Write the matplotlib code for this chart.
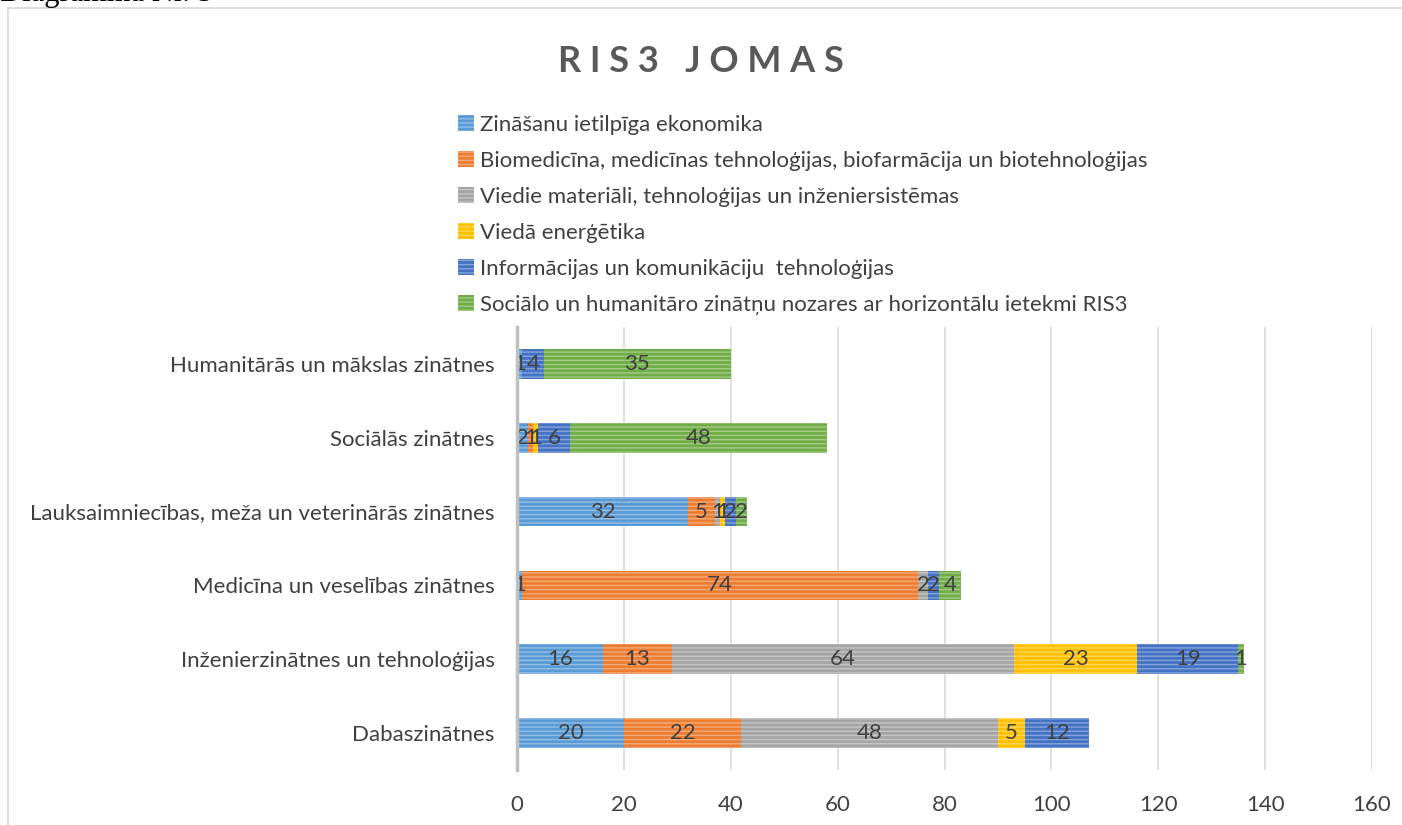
import matplotlib.pyplot as plt
from matplotlib.patches import Rectangle
from matplotlib.colors import to_rgb
import numpy as np

plt.rcParams['font.family'] = ['Lato', 'DejaVu Sans']
plt.rcParams['hatch.linewidth'] = 1.0

# categories, bottom to top
categories = [
    'Dabaszinātnes',
    'Inženierzinātnes un tehnoloģijas',
    'Medicīna un veselības zinātnes',
    'Lauksaimniecības, meža un veterinārās zinātnes',
    'Sociālās zinātnes',
    'Humanitārās un mākslas zinātnes',
]

series_names = [
    'Zināšanu ietilpīga ekonomika',
    'Biomedicīna, medicīnas tehnoloģijas, biofarmācija un biotehnoloģijas',
    'Viedie materiāli, tehnoloģijas un inženiersistēmas',
    'Viedā enerģētika',
    'Informācijas un komunikāciju  tehnoloģijas',
    'Sociālo un humanitāro zinātņu nozares ar horizontālu ietekmi RIS3',
]

zinasanu = [20, 16, 1, 32, 2, 1]
biomed = [22, 13, 74, 5, 1, 0]
materiali = [48, 64, 2, 1, 0, 0]
energetika = [5, 23, 0, 1, 1, 0]
ikt = [12, 19, 2, 2, 6, 4]
socialo = [0, 1, 4, 2, 48, 35]

colors = ['#5B9BD5', '#ED7D31', '#A5A5A5', '#FFC000', '#4472C4', '#70AD47']
x_ticks = [0, 20, 40, 60, 80, 100, 120, 140, 160]


def lighter(c, f=0.35):
    r, g, b = to_rgb(c)
    return (r + (1 - r) * f, g + (1 - g) * f, b + (1 - b) * f)


fig = plt.figure(figsize=(14.02, 8.25), dpi=100)
ax = fig.add_axes([517 / 1402, 1 - 770 / 825, 855 / 1402, 443 / 825])

# chart frame and caption cut off at the top
fig.patches.append(Rectangle((8 / 1402, -0.1), 1.2, 1.1 - 8 / 825, transform=fig.transFigure,
                             fill=False, edgecolor='#D9D9D9', linewidth=1.2))
fig.text(0.0, 1 - 1 / 825, 'Diagramma Nr. 5', fontsize=22, family='Liberation Serif',
         va='baseline', ha='left', color='black')

y = np.arange(len(categories))
left = np.zeros(len(categories))
data = [zinasanu, biomed, materiali, energetika, ikt, socialo]
handles = []
for vals, name, col in zip(data, series_names, colors):
    vals = np.array(vals, dtype=float)
    bars = ax.barh(y, vals, left=left, height=0.4, color=col, edgecolor=lighter(col),
                   linewidth=0, hatch='----', label=name, zorder=3)
    handles.append(bars)
    for yi, v, l in zip(y, vals, left):
        if v > 0:
            ax.text(l + v / 2, yi, f'{int(v)}', ha='center', va='center',
                    fontsize=16, color='#404040', zorder=4)
    left += vals

ax.set_xlim(0, 160)
ax.set_ylim(-0.5, len(categories) - 0.5)
ax.set_xticks(x_ticks)
ax.set_yticks(y)
ax.set_yticklabels(categories)
ax.tick_params(axis='both', length=0, labelsize=16, labelcolor='#404040')
ax.tick_params(axis='x', pad=18)
ax.tick_params(axis='y', pad=16)
ax.grid(axis='x', color='#D9D9D9', linewidth=1.2, zorder=0)
for s in ['top', 'right', 'bottom']:
    ax.spines[s].set_visible(False)
ax.spines['left'].set_color('#BFBFBF')
ax.spines['left'].set_linewidth(2.5)
ax.spines['left'].set_zorder(5)

fig.text(0.5, 1 - 61 / 825, 'R I S 3   J O M A S', ha='center', va='center',
         fontsize=26, fontweight='bold', color='#595959')

fig.legend(handles=handles, labels=series_names, loc='upper left',
           bbox_to_anchor=(438 / 1402, 1 - 95 / 825), frameon=False,
           fontsize=16, labelspacing=0.72, handlelength=0.7, handleheight=0.7,
           handletextpad=0.3, labelcolor='#404040')

fig.savefig('out.png', dpi=100)
